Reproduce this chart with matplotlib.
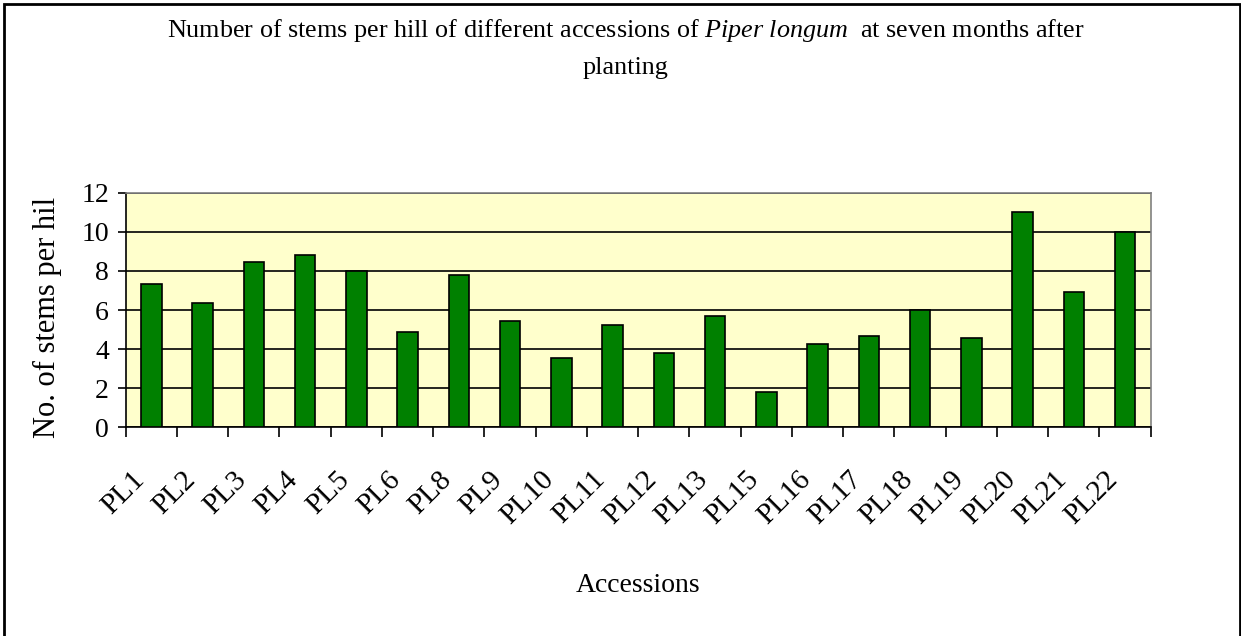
import numpy as np
import matplotlib
matplotlib.use("Agg")
import matplotlib.pyplot as plt
import matplotlib.transforms as mtransforms
from matplotlib.patches import Rectangle

# data
accessions = ["PL1", "PL2", "PL3", "PL4", "PL5", "PL6", "PL8", "PL9", "PL10", "PL11",
              "PL12", "PL13", "PL15", "PL16", "PL17", "PL18", "PL19", "PL20", "PL21", "PL22"]
stems = [7.35, 6.35, 8.48, 8.79, 8.0, 4.9, 7.8, 5.46, 3.57, 5.24,
         3.8, 5.7, 1.81, 4.25, 4.69, 6.0, 4.59, 11.02, 6.91, 10.0]
yticks = [0, 2, 4, 6, 8, 10, 12]

plt.rcParams['font.family'] = ['Liberation Serif', 'DejaVu Serif']
plt.rcParams['mathtext.fontset'] = 'custom'
plt.rcParams['mathtext.rm'] = 'Liberation Serif'
plt.rcParams['mathtext.it'] = 'Liberation Serif:italic'

fig = plt.figure(figsize=(12.41, 6.36), dpi=100)
ax = fig.add_axes([0.1013, 0.3281, 0.8259, 0.3689])

x = np.arange(len(accessions))
ax.set_facecolor("#FFFFCC")
ax.bar(x, stems, width=0.4, color="#008000", edgecolor="black", linewidth=1.2, zorder=3)

ax.set_xlim(-0.5, len(accessions) - 0.5)
ax.set_ylim(0, 12)
ax.set_yticks(yticks)
ax.yaxis.grid(True, color="black", linewidth=1.2, zorder=1)
ax.set_axisbelow(True)
ax.tick_params(axis="y", direction="out", length=6, width=1.2, pad=6, labelsize=20)

# labels at bar centres, tick marks between categories
ax.set_xticks(x)
ax.set_xticklabels(accessions, rotation=45, ha="right", va="top", fontsize=21)
ax.set_xticks(np.arange(-0.5, len(accessions)), minor=True)
ax.tick_params(axis="x", which="major", length=0, pad=28)
ax.tick_params(axis="x", which="minor", direction="out", length=7, width=1.2)
shift = mtransforms.ScaledTranslation(-2 / 100, 0, fig.dpi_scale_trans)
for lab in ax.get_xticklabels():
    lab.set_transform(lab.get_transform() + shift)

for side in ["left", "bottom"]:
    ax.spines[side].set_color("black")
    ax.spines[side].set_linewidth(1.2)
for side in ["top", "right"]:
    ax.spines[side].set_color("#808080")
    ax.spines[side].set_linewidth(1.2)

ax.set_ylabel("No. of stems per hil", fontsize=22)
ax.yaxis.set_label_coords(-0.062, 0.47)
fig.text(0.514, 1 - 585 / 636, "Accessions", ha="center", va="center", fontsize=20)

fig.text(0.504, 1 - 30 / 636,
         r"Number of stems per hill of different accessions of $\mathit{Piper\ longum}$  at seven months after",
         ha="center", va="center", fontsize=18.8)
fig.text(0.504, 1 - 68 / 636, "planting", ha="center", va="center", fontsize=18.8)

fig.patches.append(Rectangle((4 / 1241, -0.01), 1236 / 1241, 1 - 4 / 636 + 0.01,
                             transform=fig.transFigure, fill=False,
                             edgecolor="black", linewidth=2))

fig.savefig("out.png", dpi=100)
